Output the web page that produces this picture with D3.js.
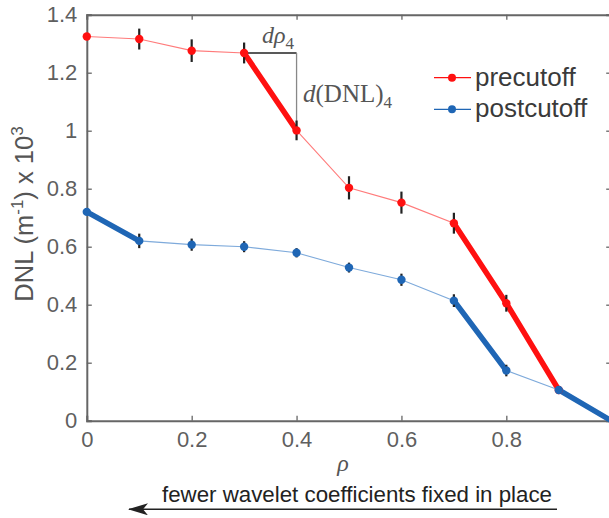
<!DOCTYPE html>
<html>
<head>
<meta charset="utf-8">
<script src="https://cdn.jsdelivr.net/npm/d3@7"></script>
<style>
  html, body { margin: 0; padding: 0; background: #fff; }
  svg { display: block; }
</style>
</head>
<body>
<svg id="chart" width="609" height="518"></svg>
<script>
// rho values and DNL (x 10^3) with error half-widths
const rhoPre   = [0, 0.1, 0.2, 0.3, 0.4, 0.5, 0.6, 0.7, 0.8, 0.9];
const precutoff = [1.325, 1.316, 1.276, 1.268, 1.001, 0.803, 0.752, 0.681, 0.405, 0.106];
const preErr    = [0, 0.036, 0.039, 0.036, 0.034, 0.040, 0.038, 0.036, 0.029, 0.010];

const rhoPost   = [0, 0.1, 0.2, 0.3, 0.4, 0.5, 0.6, 0.7, 0.8, 0.9, 1.0];
const postcutoff = [0.720, 0.620, 0.607, 0.600, 0.579, 0.528, 0.486, 0.414, 0.173, 0.106, 0.0];
const postErr    = [0, 0.025, 0.021, 0.019, 0.016, 0.017, 0.021, 0.022, 0.020, 0.010, 0];

// segments drawn emphasised (index pairs i -> i+1)
const preThick  = [[3, 4], [7, 8], [8, 9]];
const postThick = [[0, 1], [7, 8], [9, 10]];

const xTicks = [0, 0.2, 0.4, 0.6, 0.8, 1.0];
const yTicks = [0, 0.2, 0.4, 0.6, 0.8, 1.0, 1.2, 1.4];
const seriesNames = ["precutoff", "postcutoff"];

const svg = d3.select("#chart");
const plotL = 86.8, plotR = 611.2, plotT = 14.7, plotB = 420.7;
const x = d3.scaleLinear().domain([0, 1]).range([plotL, plotR]);
const y = d3.scaleLinear().domain([0, 1.4]).range([plotB, plotT]);

const RED = "#ff1010", RED_THIN = "#ff7b7b";
const BLUE = "#1f66b5", BLUE_THIN = "#7eaadb";
const AX = "#666666";
const sans = "'Liberation Sans', Arial, sans-serif";
const serif = "'Liberation Serif', 'Times New Roman', serif";

// axes box with inward ticks
const axG = svg.append("g");
axG.append("g").attr("transform", `translate(0,${plotB})`)
  .call(d3.axisBottom(x).tickValues(xTicks).tickSize(-5).tickPadding(11)
    .tickFormat(d => d === 1 ? "" : d3.format("~g")(d)));
axG.append("g").attr("transform", `translate(0,${plotT})`)
  .call(d3.axisTop(x).tickValues(xTicks).tickSize(-5).tickFormat(""));
axG.append("g").attr("transform", `translate(${plotL},0)`)
  .call(d3.axisLeft(y).tickValues(yTicks).tickSize(-5).tickPadding(9.5)
    .tickFormat(d3.format("~g")));
axG.append("g").attr("transform", `translate(${plotR},0)`)
  .call(d3.axisRight(y).tickValues(yTicks).tickSize(-5).tickFormat(""));
axG.selectAll(".domain").attr("stroke", AX).attr("stroke-width", 2);
axG.selectAll(".tick line").attr("stroke", AX).attr("stroke-width", 1.3);
axG.selectAll(".tick text").attr("fill", "#5f5f5f")
  .style("font-family", sans).style("font-size", "22px");

// slope annotation at rho = 0.3 .. 0.4
svg.append("line")
  .attr("x1", x(rhoPre[3])).attr("y1", y(precutoff[3]))
  .attr("x2", x(rhoPre[4])).attr("y2", y(precutoff[3]))
  .attr("stroke", "#222").attr("stroke-width", 1.3);
svg.append("line")
  .attr("x1", x(rhoPre[4])).attr("y1", y(precutoff[3]))
  .attr("x2", x(rhoPre[4])).attr("y2", y(precutoff[4]))
  .attr("stroke", "#888").attr("stroke-width", 1.3);

const annoA = svg.append("text").attr("x", 262).attr("y", 43)
  .attr("fill", "#555").style("font-family", serif).style("font-size", "24px");
annoA.append("tspan").attr("font-style", "italic").text("dρ");
annoA.append("tspan").attr("dy", 6).style("font-size", "17px").text("4");

const annoB = svg.append("text").attr("x", 303).attr("y", 102)
  .attr("fill", "#555").style("font-family", serif).style("font-size", "25px");
annoB.append("tspan").attr("font-style", "italic").text("d");
annoB.append("tspan").text("(DNL)");
annoB.append("tspan").attr("dy", 6).style("font-size", "17px").text("4");

const line = d3.line().x(d => x(d[0])).y(d => y(d[1]));

function drawSeries(rhos, vals, thick, cThin, cThick) {
  const pts = rhos.map((r, i) => [r, vals[i]]);
  svg.append("path").datum(pts).attr("d", line)
    .attr("fill", "none").attr("stroke", cThin).attr("stroke-width", 1.1);
  thick.forEach(([a, b]) => {
    svg.append("path").datum([pts[a], pts[b]]).attr("d", line)
      .attr("fill", "none").attr("stroke", cThick)
      .attr("stroke-width", 5.5).attr("stroke-linecap", "round");
  });
  return pts;
}

const prePts = drawSeries(rhoPre, precutoff, preThick, RED_THIN, RED);
const postPts = drawSeries(rhoPost, postcutoff, postThick, BLUE_THIN, BLUE);

function drawBars(pts, errs) {
  svg.append("g").selectAll("line")
    .data(pts.map((p, i) => [p[0], p[1], errs[i]]).filter(d => d[2] > 0))
    .join("line")
    .attr("x1", d => x(d[0])).attr("x2", d => x(d[0]))
    .attr("y1", d => y(d[1] - d[2])).attr("y2", d => y(d[1] + d[2]))
    .attr("stroke", "#222").attr("stroke-width", 2.2);
}
function drawMarkers(pts, color, skipLast) {
  svg.append("g").selectAll("circle")
    .data(skipLast ? pts.slice(0, -1) : pts)
    .join("circle")
    .attr("cx", d => x(d[0])).attr("cy", d => y(d[1])).attr("r", 4.2)
    .attr("fill", color);
}
drawBars(prePts, preErr);
drawBars(postPts, postErr);
drawMarkers(prePts, RED, false);
drawMarkers(postPts, BLUE, true);

// legend
const legend = svg.append("g");
[[RED, 77.7], [BLUE, 109.3]].forEach(([c, ly], i) => {
  legend.append("line").attr("x1", 434).attr("x2", 471).attr("y1", ly).attr("y2", ly)
    .attr("stroke", c).attr("stroke-width", 1.3);
  legend.append("circle").attr("cx", 452).attr("cy", ly).attr("r", 4).attr("fill", c);
  legend.append("text").attr("x", 475).attr("y", ly + 8)
    .attr("fill", "#3a3a3a").style("font-family", sans).style("font-size", "26px")
    .text(seriesNames[i]);
});

// axis titles
const yl = svg.append("text")
  .attr("transform", `translate(33,214) rotate(-90)`)
  .attr("text-anchor", "middle").attr("fill", "#555")
  .style("font-family", sans).style("font-size", "25.5px");
yl.append("tspan").text("DNL (m");
yl.append("tspan").attr("dy", -10).style("font-size", "17px").text("-1");
yl.append("tspan").attr("dy", 10).text(") x 10");
yl.append("tspan").attr("dy", -10).style("font-size", "17px").text("3");

svg.append("text").attr("x", 343).attr("y", 471).attr("text-anchor", "middle")
  .attr("fill", "#555").style("font-family", serif).style("font-style", "italic")
  .style("font-size", "24px").text("ρ");

svg.append("text").attr("x", 357).attr("y", 502).attr("text-anchor", "middle")
  .attr("fill", "#222").style("font-family", sans).style("font-size", "22.3px")
  .attr("textLength", 390).attr("lengthAdjust", "spacingAndGlyphs")
  .text("fewer wavelet coefficients fixed in place");

// arrow pointing towards lower rho
svg.append("defs").append("marker").attr("id", "arrowHead")
  .attr("viewBox", "0 0 20 12").attr("refX", 19).attr("refY", 6)
  .attr("markerWidth", 20).attr("markerHeight", 12).attr("markerUnits", "userSpaceOnUse")
  .attr("orient", "auto")
  .append("path").attr("d", "M0,0 L20,6 L0,12 L5,6 Z").attr("fill", "#222");
svg.append("line").attr("x1", 557).attr("x2", 129).attr("y1", 509.3).attr("y2", 509.3)
  .attr("stroke", "#222").attr("stroke-width", 1.6)
  .attr("marker-end", "url(#arrowHead)");
</script>
</body>
</html>
